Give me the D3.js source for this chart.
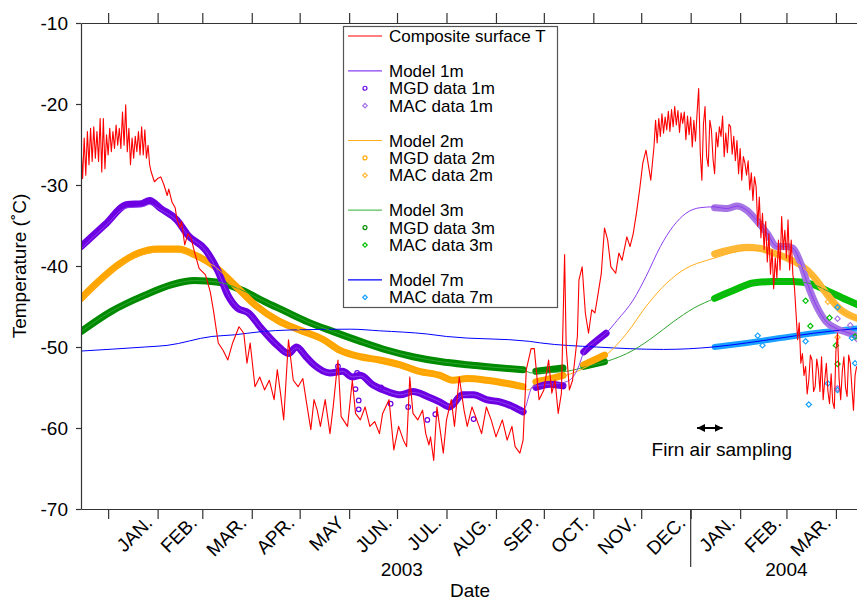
<!DOCTYPE html>
<html>
<head>
<meta charset="utf-8">
<script src="https://cdn.jsdelivr.net/npm/d3@7"></script>
<style>
  body { margin: 0; background: #fff; }
  svg { display: block; font-family: Arial, "Liberation Sans", sans-serif; }
</style>
</head>
<body>
<svg id="chart" width="857" height="602"></svg>
<script>

// ---- data : [day since 2003-01-01, temperature degC] ----

// composite surface temperature
const surfaceT = [
  [-17,-25.1],[-16,-29.2],[-15,-24.2],[-14,-28.8],[-13,-23.4],[-12,-27.5],[-11,-23.0],[-10,-27.1],
  [-9,-22.8],[-8,-26.7],[-7,-23.4],[-6,-27.1],[-5,-21.8],[-4,-28.4],[-3,-21.8],[-2,-28.0],
  [-1,-23.8],[0,-26.3],[1,-23.0],[2,-25.9],[3,-23.4],[4,-25.5],[5,-22.6],[6,-25.1],[7,-23.0],
  [8,-25.5],[9,-21.0],[10,-25.1],[11,-20.1],[12,-25.9],[13,-23.0],[14,-27.5],[15,-24.2],
  [16,-26.7],[17,-24.0],[18,-25.9],[19,-23.4],[20,-26.3],[21,-22.8],[22,-26.3],[23,-23.2],
  [24,-26.7],[25,-25.1],[26,-27.5],[27,-28.4],[29,-29.6],[31,-29.2],[33,-29.0],[35,-30.0],
  [37,-31.3],[38,-30.5],[40,-32.1],[42,-32.8],[43,-34.1],[45,-35.3],[46,-34.5],[47,-36.0],
  [48,-37.4],[50,-36.0],[52,-36.6],[54,-38.2],[57,-40.3],[61,-41.1],[64,-43.2],[66,-45.5],[69,-49.5],
  [72,-50.4],[75,-51.6],[78,-49.5],[82,-47.5],[85,-48.3],[87,-52.0],[89,-49.5],[92,-54.9],
  [95,-53.7],[98,-55.3],[101,-54.1],[104,-56.5],[106,-52.8],[108,-55.7],[110,-59.0],[112,-52.4],
  [113,-49.1],[116,-54.1],[119,-54.9],[122,-53.9],[124,-56.5],[127,-60.2],[129,-56.5],[131,-57.8],
  [133,-59.8],[136,-56.5],[139,-60.7],[141,-57.4],[144,-51.6],[146,-58.6],[150,-59.8],[153,-54.1],
  [155,-58.2],[158,-59.0],[161,-57.4],[164,-59.8],[167,-59.2],[170,-60.7],[172,-58.2],[176,-56.5],
  [179,-62.7],[182,-59.8],[185,-61.5],[187,-62.3],[189,-53.7],[191,-58.2],[194,-59.0],[197,-57.8],
  [199,-60.7],[201,-62.1],[202,-61.1],[204,-64.0],[206,-57.4],[208,-60.2],[210,-63.1],[212,-59.0],
  [215,-56.5],[217,-59.8],[220,-53.7],[223,-57.8],[225,-59.8],[228,-57.4],[231,-59.0],[234,-60.7],
  [237,-57.4],[240,-59.0],[243,-61.1],[247,-59.0],[250,-61.5],[253,-59.8],[255,-62.3],[258,-63.1],
  [260,-61.5],[262,-52.8],[265,-50.2],[267,-50.2],[270,-56.5],[273,-55.3],[276,-51.6],[278,-55.7],
  [280,-54.1],[282,-58.2],[284,-55.7],[286,-38.6],[287,-50.0],[289,-55.3],[291,-54.1],[294,-48.7],
  [295,-41.7],[297,-40.1],[299,-45.8],[301,-48.3],[303,-45.4],[305,-45.8],[307,-43.4],[309,-40.9],
  [311,-35.3],[313,-36.8],[315,-40.1],[318,-40.9],[320,-38.4],[322,-39.3],[325,-36.4],[327,-37.6],
  [329,-36.0],[331,-33.5],[333,-30.6],[335,-27.3],[337,-25.7],[340,-29.4],[342,-25.3],[343,-22.0],
  [344,-24.8],[345,-21.8],[346,-24.0],[347,-21.2],[348,-23.6],[349,-21.6],[350,-23.2],[351,-20.9],
  [352,-23.4],[353,-20.7],[354,-22.8],[355,-20.3],[356,-22.6],[357,-20.8],[358,-23.5],[359,-21.1],
  [360,-22.4],[361,-21.0],[362,-24.4],[363,-21.5],[364,-23.8],[365,-21.6],[366,-25.3],[367,-22.0],
  [368,-24.6],[369,-21.1],[370,-18.1],[371,-26.0],[372,-29.4],[373,-22.5],[374,-20.3],[375,-26.5],
  [376,-27.7],[377,-22.0],[378,-23.2],[379,-26.8],[380,-28.6],[381,-23.5],[382,-25.3],[383,-22.8],
  [384,-24.0],[385,-21.5],[386,-26.5],[387,-23.6],[388,-26.0],[389,-22.5],[390,-22.8],[391,-26.2],
  [392,-24.0],[393,-27.0],[394,-24.5],[395,-28.6],[396,-25.5],[397,-29.4],[398,-26.5],[399,-27.3],
  [400,-28.8],[401,-27.0],[402,-30.6],[403,-28.5],[404,-31.9],[405,-29.0],[406,-30.2],[407,-35.1],
  [408,-31.5],[409,-36.5],[410,-33.5],[411,-38.0],[412,-34.5],[413,-39.5],[414,-36.0],[415,-41.0],
  [416,-38.0],[417,-42.8],[418,-39.0],[419,-41.5],[420,-36.8],[421,-40.5],[422,-33.9],[423,-38.0],
  [424,-35.6],[425,-39.0],[426,-34.3],[427,-40.5],[428,-36.8],[429,-41.0],[430,-42.6],[431,-45.8],
  [432,-49.1],[433,-47.0],[434,-52.0],[435,-50.8],[436,-53.5],[437,-52.4],[438,-55.8],[439,-54.1],
  [440,-51.0],[441,-51.6],[442,-55.5],[443,-54.9],[444,-51.5],[445,-52.8],[446,-55.5],[447,-51.2],
  [448,-56.5],[449,-54.1],[450,-52.0],[451,-55.5],[452,-57.0],[453,-53.3],[454,-56.8],[455,-57.6],
  [456,-50.5],[457,-48.3],[458,-54.0],[459,-56.5],[460,-53.0],[461,-51.2],[462,-55.0],[463,-56.1],
  [464,-51.0],[465,-52.0],[466,-55.0],[467,-57.8],[468,-53.5],[469,-52.4]
];

// model curves
const model1m = [
  [-17,-37.9],[-2,-35.1],[12,-32.8],[21,-32.7],[26,-32.4],[33,-33.1],[43,-34.4],[50,-36.2],
  [61,-38.1],[69,-40.8],[75,-43.5],[81,-45.1],[88,-45.9],[96,-47.7],[106,-49.8],[113,-50.8],
  [118,-50.1],[124,-51.2],[129,-52.2],[139,-53.2],[147,-53.0],[153,-53.7],[158,-53.6],[166,-54.7],
  [175,-55.5],[183,-55.9],[191,-55.6],[200,-56.1],[208,-56.8],[214,-57.3],[222,-56.0],[229,-55.9],
  [237,-56.5],[246,-56.8],[254,-57.4],[260,-57.9],[266,-54.9],[277,-54.6],[287,-54.3],[294,-52.8],
  [298,-50.7],[305,-49.4],[312,-48.3],[319,-46.7],[329,-44.2],[337,-41.3],[346,-37.6],[354,-35.1],
  [362,-33.5],[371,-32.8],[379,-32.7],[388,-32.9],[394,-32.6],[400,-33.1],[406,-34.3],[413,-36.0],
  [419,-37.6],[425,-37.6],[429,-37.8],[434,-39.7],[438,-42.1],[444,-45.0],[450,-46.9],[456,-47.7],
  [463,-48.2],[470,-48.7]
];
const model2m = [
  [-17,-44.3],[-6,-42.2],[6,-40.2],[19,-38.8],[31,-38.3],[44,-38.3],[54,-38.8],[67,-40.1],
  [79,-42.3],[92,-44.8],[107,-46.8],[120,-47.9],[135,-49.1],[145,-50.4],[158,-51.2],[170,-51.6],
  [183,-52.2],[195,-53.0],[208,-53.5],[216,-54.1],[225,-53.9],[237,-54.1],[250,-54.5],[260,-54.9],
  [263,-55.3],[269,-54.4],[277,-54.0],[285,-53.6],[294,-53.0],[300,-52.4],[312,-51.0],[325,-48.3],
  [337,-45.0],[350,-42.1],[362,-40.3],[375,-39.3],[382,-38.9],[390,-38.4],[400,-38.1],[408,-38.1],
  [417,-38.6],[425,-39.1],[434,-40.0],[442,-41.4],[450,-43.4],[459,-45.4],[470,-46.6]
];
const model3m = [
  [-17,-48.1],[2,-45.6],[23,-43.6],[40,-42.3],[54,-41.8],[69,-42.0],[84,-43.0],[98,-44.4],
  [111,-45.6],[125,-46.9],[141,-48.1],[158,-49.3],[175,-50.4],[191,-51.2],[208,-51.8],[225,-52.2],
  [241,-52.5],[260,-52.8],[265,-53.2],[287,-53.0],[300,-52.4],[312,-51.8],[329,-50.4],[342,-48.7],
  [354,-46.9],[367,-45.2],[380,-44.0],[392,-43.0],[404,-42.1],[417,-41.9],[429,-41.9],[442,-42.3],
  [452,-43.2],[463,-44.2],[470,-44.8]
];
const model7m = [
  [-17,-50.5],[23,-50.0],[37,-49.8],[65,-48.7],[79,-48.5],[96,-48.1],[114,-47.9],[152,-47.8],
  [170,-48.0],[200,-48.4],[212,-48.7],[264,-49.3],[271,-49.5],[306,-50.0],[348,-50.3],[379,-50.0],
  [400,-49.5],[421,-48.9],[442,-48.3],[470,-47.7]
];

// MGD logger records (dense, drawn as a band), split where the record has gaps
const mgd1m = [
  [[-17,-37.6],[-2,-34.9],[12,-32.4],[21,-32.3],[26,-31.9],[33,-32.9],[43,-34.3],[50,-36.2],
   [61,-38.0],[69,-40.7],[75,-43.6],[81,-45.2],[88,-45.8],[96,-47.7],[106,-49.8],[113,-50.8],
   [118,-50.0],[124,-51.2],[129,-52.2],[139,-53.2],[147,-53.0],[153,-53.7],[158,-53.5],[166,-54.7],
   [175,-55.5],[183,-55.9],[191,-55.5],[200,-56.1],[208,-56.8],[214,-57.4],[222,-55.9],[229,-55.9],
   [237,-56.5],[246,-56.8],[254,-57.4],[260,-58.0]],
  [[268,-55.0],[277,-54.6],[285,-54.8]],
  [[298,-50.6],[305,-49.4],[312,-48.3]]
];
const mgd2m = [
  [[-17,-44.0],[-6,-41.9],[6,-39.9],[19,-38.4],[31,-37.9],[44,-37.9],[54,-38.6],[67,-40.1],
   [79,-42.3],[92,-44.8],[107,-46.8],[120,-47.9],[135,-49.1],[145,-50.4],[158,-51.2],[170,-51.6],
   [183,-52.2],[195,-53.0],[208,-53.5],[216,-54.1],[225,-53.9],[237,-54.1],[250,-54.5],[260,-54.9]],
  [[268,-54.3],[277,-53.9],[285,-53.5]],
  [[298,-52.2],[311,-51.0]]
];
const mgd3m = [
  [[-17,-48.1],[2,-45.6],[23,-43.6],[40,-42.3],[54,-41.8],[69,-42.0],[84,-43.0],[98,-44.4],
   [111,-45.6],[125,-46.9],[141,-48.1],[158,-49.3],[175,-50.4],[191,-51.2],[208,-51.8],[225,-52.2],
   [241,-52.5],[260,-52.8]],
  [[268,-53.0],[285,-52.6]],
  [[298,-52.4],[311,-51.8]]
];
// scattered MGD 1m readings
const mgd1mPts = [
  [144,-52.4],[155,-55.2],[156,-53.2],[157,-56.6],[157,-57.7],[171,-55.0],[177,-57.0],
  [188,-57.4],[200,-59.0],[205,-58.3],[229,-58.9]
];

// MAC records 2004 (dense band) and scattered readings
const mac1m = [
  [380,-32.8],[388,-32.9],[394,-32.6],[400,-33.1],[406,-34.3],[413,-36.0],[419,-37.6],[425,-37.6],
  [429,-37.8],[434,-39.7],[438,-42.1],[444,-45.0],[450,-46.9],[456,-47.7],[463,-48.2],[470,-48.7]
];
const mac2m = [
  [380,-38.5],[390,-38.0],[400,-37.7],[408,-37.8],[417,-38.4],[425,-39.0],[434,-39.9],[442,-41.3],
  [450,-43.4],[459,-45.4],[470,-46.5]
];
const mac3m = [
  [380,-44.0],[392,-43.0],[404,-42.1],[417,-41.9],[429,-41.9],[442,-42.3],[452,-43.2],[463,-44.2],
  [470,-44.8]
];
const mac7m = [[380,-50.0],[400,-49.5],[421,-48.9],[442,-48.3],[470,-47.7]];
const mac1mPts = [[457,-46.5],[465,-47.3],[457,-55.1],[469,-49.0]];
const mac2mPts = [[451,-44.4],[457,-48.8]];
const mac3mPts = [[437,-44.3],[440,-47.4],[452,-46.4],[456,-49.8],[457,-52.1],[468,-48.7]];
const mac7mPts = [[407,-48.6],[410,-49.8],[437,-49.3],[439,-57.1],[451,-54.5],[457,-55.3],
                  [457,-45.1],[468,-52.0],[466,-48.9]];

// firn air sampling period (days) and its temperature level on the chart
const firnAir = [369, 385];
const firnAirLevel = -60;

// axis labels
const yTicks = [-70, -60, -50, -40, -30, -20, -10];
const monthLabels = ["JAN.", "FEB.", "MAR.", "APR.", "MAY", "JUN.", "JUL.", "AUG.",
                     "SEP.", "OCT.", "NOV.", "DEC.", "JAN.", "FEB.", "MAR."];
const yearLabels = [["2003", "2003-07-04"], ["2004", "2004-03-01"]];

// ---- chart ----

const day0 = Date.UTC(2003, 0, 1);
const toDate = d => new Date(day0 + d * 864e5);

const svg = d3.select("#chart");
const margin = {top: 23, right: 0, bottom: 93, left: 81};
const width = 857, height = 602;

const x = d3.scaleUtc()
  .domain([new Date(Date.UTC(2002, 11, 15)), new Date(Date.UTC(2004, 3, 14, 5))])
  .range([margin.left, width - margin.right]);
const y = d3.scaleLinear()
  .domain([-70, -10])
  .range([height - margin.bottom, margin.top]);

const line = d3.line()
  .x(d => x(toDate(d[0])))
  .y(d => y(d[1]));
const smooth = d3.line()
  .x(d => x(toDate(d[0])))
  .y(d => y(d[1]))
  .curve(d3.curveMonotoneX);

svg.append("defs").append("clipPath").attr("id", "plotClip")
  .append("rect")
  .attr("x", margin.left).attr("y", margin.top)
  .attr("width", width - margin.left - margin.right)
  .attr("height", height - margin.top - margin.bottom);

const plot = svg.append("g").attr("clip-path", "url(#plotClip)");

/* dense logger records are drawn as a broad band */
function band(data, color, w) {
  plot.append("path").datum(data)
    .attr("d", smooth)
    .attr("fill", "none")
    .attr("stroke", color)
    .attr("stroke-width", w)
    .attr("stroke-linecap", "round")
    .attr("stroke-linejoin", "round");
}

function thin(data, color, w) {
  plot.append("path").datum(data)
    .attr("d", smooth)
    .attr("fill", "none")
    .attr("stroke", color)
    .attr("stroke-width", w);
}

function circles(data, color) {
  plot.append("g").selectAll("circle").data(data).enter()
    .append("circle")
    .attr("cx", d => x(toDate(d[0])))
    .attr("cy", d => y(d[1]))
    .attr("r", 2.3)
    .attr("fill", "none")
    .attr("stroke", color)
    .attr("stroke-width", 1.2);
}

// small square turned by 45 degrees
const diamond = d3.symbol(d3.symbolSquare, 14);
function diamonds(data, color) {
  plot.append("g").selectAll("path").data(data).enter()
    .append("path")
    .attr("d", diamond)
    .attr("transform", d => `translate(${x(toDate(d[0]))},${y(d[1])}) rotate(45)`)
    .attr("fill", "none")
    .attr("stroke", color)
    .attr("stroke-width", 1.2);
}

const col = {
  mgd1: "#6c00e3", mac1: "#a774e6", mod1: "#8b3ef0",
  mgd2: "#ffa500", mac2: "#ffb836", mod2: "#ffae1a",
  mgd3: "#008a00", mac3: "#00c000", mod3: "#2fa52f",
  mac7: "#17a0ff", mod7: "#0000ff",
  surf: "#ff0000"
};

// bands
mgd3m.forEach(s => band(s, col.mgd3, 7));
mgd2m.forEach(s => band(s, col.mgd2, 7));
mgd1m.forEach(s => band(s, col.mgd1, 7));
band(mac7m, col.mac7, 6);
band(mac3m, col.mac3, 7);
band(mac2m, col.mac2, 7);
band(mac1m, col.mac1, 7);

// model lines
thin(model7m, col.mod7, 1);
thin(model3m, col.mod3, 1);
thin(model2m, col.mod2, 1);
thin(model1m, col.mod1, 1);

// scattered readings
circles(mgd1mPts, col.mgd1);
diamonds(mac1mPts, col.mac1);
diamonds(mac2mPts, col.mac2);
diamonds(mac3mPts, col.mac3);
diamonds(mac7mPts, col.mac7);

// surface temperature
plot.append("path").datum(surfaceT)
  .attr("d", line)
  .attr("fill", "none")
  .attr("stroke", col.surf)
  .attr("stroke-width", 1.1)
  .attr("stroke-linejoin", "round");

// ---- axes ----
const months = d3.utcMonth.range(new Date(Date.UTC(2003, 0, 1)), new Date(Date.UTC(2004, 3, 2)));

const gx = svg.append("g")
  .attr("transform", `translate(0,${height - margin.bottom})`)
  .call(d3.axisBottom(x).tickValues(months).tickSize(10).tickSizeOuter(0).tickFormat(""));
const gxTop = svg.append("g")
  .attr("transform", `translate(0,${margin.top})`)
  .call(d3.axisTop(x).tickValues(months).tickSize(10).tickSizeOuter(0).tickFormat(""));
const gy = svg.append("g")
  .attr("transform", `translate(${margin.left},0)`)
  .call(d3.axisLeft(y).tickValues(yTicks).tickSize(5).tickSizeOuter(0).tickPadding(8)
    .tickFormat(d => String(d)));

[gx, gxTop, gy].forEach(g => {
  g.selectAll("path, line").attr("stroke", "#333").attr("stroke-width", 1.2);
});
gy.selectAll("text")
  .attr("font-size", 19)
  .attr("fill", "#000")
  .attr("font-family", "Arial, 'Liberation Sans', sans-serif");

// month labels sit just before the tick that ends the month
svg.append("g").selectAll("text").data(monthLabels).enter()
  .append("text")
  .attr("transform", (d, i) => `translate(${x(months[i + 1]) - 4},${height - margin.bottom + 15}) rotate(-45)`)
  .attr("text-anchor", "end")
  .attr("font-size", 19)
  .attr("fill", "#000")
  .text(d => d);

// year separator
svg.append("line")
  .attr("x1", x(new Date(Date.UTC(2004, 0, 1)))).attr("x2", x(new Date(Date.UTC(2004, 0, 1))))
  .attr("y1", height - margin.bottom).attr("y2", height - margin.bottom + 58)
  .attr("stroke", "#333").attr("stroke-width", 1.2);

svg.append("g").selectAll("text").data(yearLabels).enter()
  .append("text")
  .attr("x", d => x(new Date(d[1])))
  .attr("y", height - margin.bottom + 67)
  .attr("text-anchor", "middle")
  .attr("font-size", 19)
  .attr("fill", "#000")
  .text(d => d[0]);

svg.append("text")
  .attr("x", 470).attr("y", 597)
  .attr("text-anchor", "middle")
  .attr("font-size", 19)
  .attr("fill", "#000")
  .text("Date");

svg.append("text")
  .attr("transform", `translate(26,${(margin.top + height - margin.bottom) / 2}) rotate(-90)`)
  .attr("text-anchor", "middle")
  .attr("font-size", 19)
  .attr("fill", "#000")
  .text("Temperature (˚C)");

// ---- firn air sampling annotation ----
const defs = svg.select("defs");
defs.append("marker")
  .attr("id", "arrowEnd").attr("viewBox", "0 0 10 10")
  .attr("refX", 10).attr("refY", 5)
  .attr("markerWidth", 8).attr("markerHeight", 8).attr("markerUnits", "userSpaceOnUse")
  .attr("orient", "auto-start-reverse")
  .append("path").attr("d", "M0,0L10,5L0,10Z").attr("fill", "#000");

const fx0 = x(toDate(firnAir[0])), fx1 = x(toDate(firnAir[1]));
svg.append("line")
  .attr("x1", fx0).attr("x2", fx1)
  .attr("y1", y(firnAirLevel)).attr("y2", y(firnAirLevel))
  .attr("stroke", "#000").attr("stroke-width", 2)
  .attr("marker-start", "url(#arrowEnd)")
  .attr("marker-end", "url(#arrowEnd)");
svg.append("text")
  .attr("x", (fx0 + fx1) / 2 + 12)
  .attr("y", y(firnAirLevel) + 28)
  .attr("text-anchor", "middle")
  .attr("font-size", 19)
  .attr("fill", "#000")
  .text("Firn air sampling");

// ---- legend ----
const legendItems = [
  {label: "Composite surface T", kind: "line", color: col.surf, row: 0},
  {label: "Model 1m", kind: "line", color: col.mod1, row: 2},
  {label: "MGD data 1m", kind: "circle", color: col.mgd1, row: 3},
  {label: "MAC data 1m", kind: "diamond", color: col.mac1, row: 4},
  {label: "Model 2m", kind: "line", color: col.mod2, row: 6},
  {label: "MGD data 2m", kind: "circle", color: col.mgd2, row: 7},
  {label: "MAC data 2m", kind: "diamond", color: col.mac2, row: 8},
  {label: "Model 3m", kind: "line", color: "#5cbf5c", row: 10},
  {label: "MGD data 3m", kind: "circle", color: col.mgd3, row: 11},
  {label: "MAC data 3m", kind: "diamond", color: col.mac3, row: 12},
  {label: "Model 7m", kind: "line", color: col.mod7, row: 14},
  {label: "MAC data 7m", kind: "diamond", color: col.mac7, row: 15}
];

const lg = svg.append("g");
lg.append("rect")
  .attr("x", 343.5).attr("y", 26.5).attr("width", 214).attr("height", 281)
  .attr("fill", "#fff").attr("stroke", "#555").attr("stroke-width", 1.2);

const rowH = 17.42, row0 = 36;
const items = lg.selectAll("g.item").data(legendItems).enter()
  .append("g")
  .attr("class", "item")
  .attr("transform", d => `translate(0,${row0 + d.row * rowH})`);

items.filter(d => d.kind === "line").append("line")
  .attr("x1", 348).attr("x2", 382).attr("y1", 0).attr("y2", 0)
  .attr("stroke", d => d.color).attr("stroke-width", 1.2);
items.filter(d => d.kind === "circle").append("circle")
  .attr("cx", 365).attr("cy", 0).attr("r", 2)
  .attr("fill", "none").attr("stroke", d => d.color).attr("stroke-width", 1.2);
items.filter(d => d.kind === "diamond").append("path")
  .attr("d", d3.symbol(d3.symbolSquare, 10))
  .attr("transform", "translate(365,0) rotate(45)")
  .attr("fill", "none").attr("stroke", d => d.color).attr("stroke-width", 1.2);
items.append("text")
  .attr("x", 389).attr("y", 6)
  .attr("font-size", 17)
  .attr("fill", "#000")
  .text(d => d.label);

</script>
</body>
</html>
